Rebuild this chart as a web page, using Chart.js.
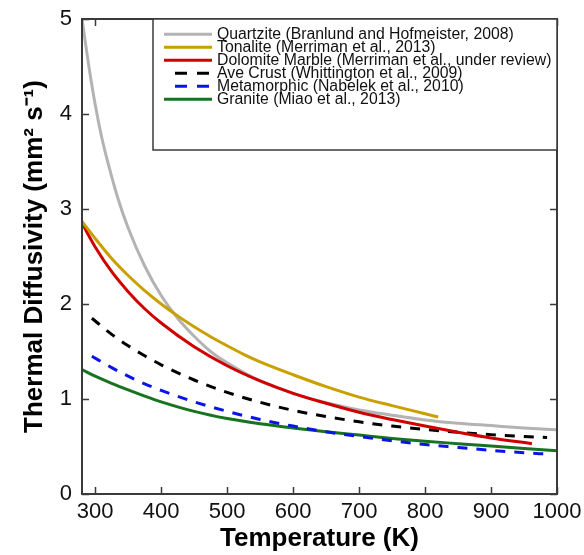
<!DOCTYPE html>
<html>
<head>
<meta charset="utf-8">
<script src="https://cdn.jsdelivr.net/npm/chart.js@4.4.1/dist/chart.umd.min.js"></script>
<style>
    html, body { margin: 0; padding: 0; background: #fff; }
    #wrap { width: 584px; height: 555px; }
</style>
</head>
<body>
<div id="wrap"><canvas id="myChart" width="584" height="555"></canvas></div>
<script>
// series (temperature in K, diffusivity in mm^2/s)
const seriesLabels = [
    'Quartzite (Branlund and Hofmeister, 2008)',
    'Tonalite (Merriman et al., 2013)',
    'Dolomite Marble (Merriman et al., under review)',
    'Ave Crust (Whittington et al., 2009)',
    'Metamorphic (Nabelek et al., 2010)',
    'Granite (Miao et al., 2013)'
];

const quartziteT = [280, 290, 300, 310, 320, 335, 350, 375, 400, 425, 450, 475, 500, 550, 600, 650, 700, 750, 800, 850, 900, 950, 1000];
const quartziteD = [5.00, 4.52, 4.10, 3.75, 3.47, 3.10, 2.80, 2.40, 2.09, 1.85, 1.66, 1.50, 1.38, 1.19, 1.06, 0.96, 0.885, 0.83, 0.78, 0.745, 0.72, 0.695, 0.675];

const tonaliteT = [280, 300, 325, 350, 375, 400, 425, 450, 475, 500, 525, 550, 600, 650, 700, 750, 800, 820];
const tonaliteD = [2.87, 2.69, 2.48, 2.30, 2.14, 2.00, 1.875, 1.76, 1.655, 1.56, 1.47, 1.39, 1.255, 1.13, 1.02, 0.93, 0.845, 0.81];

const dolomiteT = [280, 300, 325, 350, 375, 400, 450, 500, 550, 600, 650, 700, 750, 800, 850, 900, 962];
const dolomiteD = [2.85, 2.60, 2.34, 2.13, 1.95, 1.80, 1.55, 1.35, 1.19, 1.06, 0.955, 0.86, 0.785, 0.715, 0.65, 0.59, 0.53];

const crustT = [295, 325, 350, 375, 400, 450, 500, 550, 600, 650, 700, 750, 800, 850, 900, 950, 985];
const crustD = [1.85, 1.68, 1.56, 1.455, 1.36, 1.20, 1.07, 0.965, 0.88, 0.815, 0.76, 0.715, 0.68, 0.65, 0.625, 0.605, 0.595];

const metamorphicT = [295, 325, 350, 375, 400, 450, 500, 550, 600, 650, 700, 750, 800, 850, 900, 950, 985];
const metamorphicD = [1.45, 1.33, 1.24, 1.16, 1.09, 0.97, 0.87, 0.785, 0.715, 0.655, 0.605, 0.56, 0.52, 0.49, 0.46, 0.435, 0.42];

const graniteT = [280, 300, 325, 350, 375, 400, 450, 500, 550, 600, 650, 700, 750, 800, 850, 900, 950, 1000];
const graniteD = [1.31, 1.24, 1.165, 1.095, 1.03, 0.97, 0.87, 0.795, 0.74, 0.695, 0.655, 0.62, 0.585, 0.555, 0.53, 0.505, 0.48, 0.455];

const xTickValues = [300, 400, 500, 600, 700, 800, 900, 1000];
const yTickValues = [0, 1, 2, 3, 4, 5];

const fontFamily = '"Liberation Sans", Arial, Helvetica, sans-serif';
Chart.defaults.font.family = fontFamily;

function toPoints(xs, ys) {
    return xs.map((x, i) => ({ x: x, y: ys[i] }));
}

function makeSet(label, xs, ys, color, dash) {
    return {
        label: label,
        data: toPoints(xs, ys),
        borderColor: color,
        backgroundColor: color,
        borderWidth: 3,
        borderDash: dash || [],
        pointRadius: 0,
        fill: false,
        cubicInterpolationMode: 'monotone'
    };
}

const datasets = [
    makeSet(seriesLabels[0], quartziteT, quartziteD, '#b3b3b3'),
    makeSet(seriesLabels[1], tonaliteT, tonaliteD, '#c9a000'),
    makeSet(seriesLabels[2], dolomiteT, dolomiteD, '#d00000'),
    makeSet(seriesLabels[3], crustT, crustD, '#000000', [10, 9]),
    makeSet(seriesLabels[4], metamorphicT, metamorphicD, '#0a14e6', [10, 9]),
    makeSet(seriesLabels[5], graniteT, graniteD, '#17731f')
];
// quartzite sits underneath the others
datasets[0].order = 10;

// frame around the plot + inward ticks on all four sides
const frameTicks = {
    id: 'frameTicks',
    afterDatasetsDraw(chart) {
        const { ctx, chartArea: a, scales } = chart;
        ctx.save();
        ctx.strokeStyle = '#3a3a3a';
        ctx.lineWidth = 2;
        ctx.strokeRect(a.left, a.top, a.right - a.left, a.bottom - a.top);
        ctx.lineWidth = 1.5;
        ctx.beginPath();
        xTickValues.forEach(v => {
            const px = Math.round(scales.x.getPixelForValue(v)) + 0.5;
            ctx.moveTo(px, a.bottom); ctx.lineTo(px, a.bottom - 7);
            ctx.moveTo(px, a.top); ctx.lineTo(px, a.top + 7);
        });
        yTickValues.forEach(v => {
            const py = Math.round(scales.y.getPixelForValue(v)) + 0.5;
            ctx.moveTo(a.left, py); ctx.lineTo(a.left + 7, py);
            ctx.moveTo(a.right, py); ctx.lineTo(a.right - 7, py);
        });
        ctx.stroke();
        ctx.restore();
    }
};

// boxed legend in the upper right of the plot
const boxLegend = {
    id: 'boxLegend',
    afterDraw(chart) {
        const { ctx, chartArea: a } = chart;
        const left = a.left + 71;
        const top = a.top;
        const w = a.right - left;
        const h = 131;
        ctx.save();
        ctx.fillStyle = '#ffffff';
        ctx.fillRect(left, top, w, h);
        ctx.strokeStyle = '#3a3a3a';
        ctx.lineWidth = 1.5;
        ctx.strokeRect(left, top, w, h);
        ctx.font = '15.8px ' + fontFamily;
        ctx.textBaseline = 'middle';
        ctx.fillStyle = '#111';
        chart.data.datasets.forEach((ds, i) => {
            const y = top + 15.3 + i * 13;
            ctx.strokeStyle = ds.borderColor;
            ctx.lineWidth = 3;
            ctx.beginPath();
            if (ds.borderDash.length) {
                ctx.moveTo(left + 22, y); ctx.lineTo(left + 34, y);
                ctx.moveTo(left + 44, y); ctx.lineTo(left + 56, y);
            } else {
                ctx.moveTo(left + 11, y); ctx.lineTo(left + 59, y);
            }
            ctx.stroke();
            ctx.fillText(ds.label, left + 64, y + 0.5);
        });
        ctx.restore();
    }
};

const ctx = document.getElementById('myChart').getContext('2d');
const myChart = new Chart(ctx, {
    type: 'line',
    data: { datasets: datasets },
    options: {
        responsive: false,
        animation: false,
        devicePixelRatio: 1,
        layout: { padding: { top: 19, right: 27, left: 0, bottom: 0 } },
        plugins: {
            legend: { display: false },
            tooltip: { enabled: false }
        },
        scales: {
            x: {
                type: 'linear',
                min: 280,
                max: 1000,
                afterBuildTicks: s => { s.ticks = xTickValues.map(v => ({ value: v })); },
                afterFit: s => { s.height = 61; s.paddingLeft = 0; s.paddingRight = 0; },
                grid: { display: false, drawTicks: false },
                border: { display: false },
                ticks: {
                    color: '#111',
                    font: { size: 22 },
                    padding: 5,
                    maxRotation: 0,
                    autoSkip: false,
                    callback: v => String(v)
                },
                title: {
                    display: true,
                    text: 'Temperature (K)',
                    color: '#000',
                    font: { size: 26, weight: 'bold' },
                    padding: 1
                }
            },
            y: {
                type: 'linear',
                min: 0,
                max: 5,
                afterBuildTicks: s => { s.ticks = yTickValues.map(v => ({ value: v })); },
                afterFit: s => { s.width = 82; s.paddingTop = 0; s.paddingBottom = 0; },
                grid: { display: false, drawTicks: false },
                border: { display: false },
                ticks: {
                    color: '#111',
                    font: { size: 22 },
                    padding: 10,
                    callback: v => String(v)
                },
                title: {
                    display: true,
                    text: 'Thermal Diffusivity (mm² s⁻¹)',
                    color: '#000',
                    font: { size: 26, weight: 'bold' },
                    padding: 19
                }
            }
        }
    },
    plugins: [frameTicks, boxLegend]
});
</script>
</body>
</html>
